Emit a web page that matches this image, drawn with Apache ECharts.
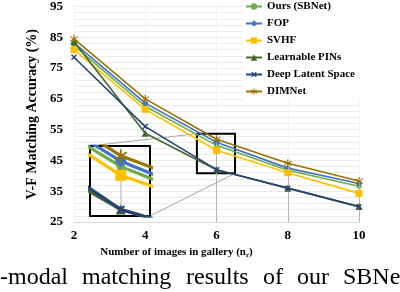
<!DOCTYPE html>
<html>
<head>
<meta charset="utf-8">
<script src="https://cdn.jsdelivr.net/npm/echarts@6/dist/echarts.min.js"></script>
<style>
html,body{margin:0;padding:0;background:#fff;}
#chart{width:400px;height:292px;}
</style>
</head>
<body>
<div id="chart"></div>
<script>
// ---- data ----
var xValues = [2, 4, 6, 8, 10];
var seriesNames = ['Ours (SBNet)', 'FOP', 'SVHF', 'Learnable PINs', 'Deep Latent Space', 'DIMNet'];
var oursData = [82.3, 62.6, 49.9, 41.8, 36.6];
var fopData = [83.2, 63.6, 50.9, 42.5, 37.5];
var svhfData = [81.0, 61.6, 48.3, 41.0, 34.3];
var pinsData = [83.6, 53.8, 42.0, 36.0, 30.0];
var deepData = [78.5, 56.0, 42.0, 36.0, 30.0];
var dimnetData = [84.5, 65.0, 51.9, 44.1, 38.3];
var yTicks = [25, 35, 45, 55, 65, 75, 85, 95];
var xTicks = [2, 4, 6, 8, 10];
var dropLineIdx = [2, 3, 4];
var insetX = [5.45, 6.52];
var insetY = [40.8, 53.7];
var captionWords = ['-modal', 'matching', 'results', 'of', 'our', 'SBNet'];

var FONT = "'Liberation Serif', 'Times New Roman', serif";
var colors = ['#70AD47', '#4472C4', '#FFC000', '#43682B', '#264478', '#997300'];
var allData = [oursData, fopData, svhfData, pinsData, deepData, dimnetData];
var plusPath = 'path://M4,0h2v4h4v2h-4v4h-2v-4h-4v-2h4z';
var starPath = 'path://M4.4,0h1.2v3.6l2.9-2.1l0.7,1l-2.9,2.1l2.9,2.1l-0.7,1l-2.9-2.1v3.6h-1.2v-3.6l-2.9,2.1l-0.7-1l2.9-2.1l-2.9-2.1l0.7-1l2.9,2.1z';
var symbols = ['circle', 'diamond', 'rect', 'triangle', plusPath, starPath];
var symSizeMain = [5, 7, 7, 7, 7, 8];
var symSizeInset = [9, 12, 11, 10, 10, 13];
var symRotate = [0, 0, 0, 0, 45, 0];

function pairs(d) { return xValues.map(function (x, i) { return [x, d[i]]; }); }

var series = [];
seriesNames.forEach(function (name, k) {
  var s = {
    name: name, type: 'line', xAxisIndex: 0, yAxisIndex: 0,
    data: pairs(allData[k]),
    symbol: symbols[k], symbolSize: symSizeMain[k], symbolRotate: symRotate[k],
    showAllSymbol: true,
    lineStyle: { color: colors[k], width: 1.6 },
    itemStyle: { color: colors[k] },
    z: 3 + k, animation: false
  };
  if (k === 5) {
    s.markLine = {
      silent: true, symbol: 'none', animation: false,
      label: { show: false },
      lineStyle: { color: '#B4B4B4', type: 'solid', width: 1 },
      data: dropLineIdx.map(function (i) {
        return [{ coord: [xValues[i], dimnetData[i]] }, { coord: [xValues[i], yTicks[0]] }];
      })
    };
    s.markArea = {
      silent: true, animation: false,
      itemStyle: { color: 'rgba(0,0,0,0)', borderColor: '#000', borderWidth: 2 },
      data: [[{ coord: [insetX[0], insetY[1]] }, { coord: [insetX[1], insetY[0]] }]]
    };
  }
  series.push(s);
});
seriesNames.forEach(function (name, k) {
  var s = {
    name: name, type: 'line', xAxisIndex: 1, yAxisIndex: 1,
    data: pairs(allData[k]),
    symbol: symbols[k], symbolSize: symSizeInset[k], symbolRotate: symRotate[k],
    showAllSymbol: true, clip: true,
    lineStyle: { color: colors[k], width: 3.2 },
    itemStyle: { color: colors[k] },
    z: 20 + k, animation: false
  };
  if (k === 5) {
    s.markLine = {
      silent: true, symbol: 'none', animation: false,
      label: { show: false },
      lineStyle: { color: '#C8C8C8', type: 'solid', width: 1.5 },
      data: [2].map(function (i) {
        return [{ coord: [xValues[i], dimnetData[i]] }, { coord: [xValues[i], insetY[0]] }];
      })
    };
  }
  series.push(s);
});

var chart = echarts.init(document.getElementById('chart'), null, { renderer: 'canvas' });
var option = {
  backgroundColor: '#fff',
  animation: false,
  color: colors,
  textStyle: { fontFamily: FONT },
  legend: {
    data: seriesNames,
    orient: 'vertical', left: 243, top: 0,
    backgroundColor: '#fff',
    padding: [1, 6, 3, 2],
    itemWidth: 16, itemHeight: 8, itemGap: 6,
    textStyle: { fontFamily: FONT, fontWeight: 'bold', fontSize: 11, color: '#000', lineHeight: 11 },
    z: 50
  },
  grid: [
    { left: 74, right: 41, top: 5, bottom: 70, containLabel: false },
    { left: 90, top: 146, width: 60, height: 70, show: true, borderColor: '#000', borderWidth: 2, backgroundColor: 'rgba(0,0,0,0)', z: 15 }
  ],
  xAxis: [
    {
      gridIndex: 0, type: 'value', min: xTicks[0], max: xTicks[xTicks.length - 1], interval: 2,
      axisLine: { show: true, lineStyle: { color: '#D9D9D9', width: 1 } },
      axisTick: { show: false },
      axisLabel: { color: '#000', fontFamily: FONT, fontWeight: 'bold', fontSize: 13, margin: 7 },
      splitLine: { show: true, lineStyle: { color: '#F2F2F2', width: 1 } },
      name: 'Number of images in gallery (n{sub|r})',
      nameLocation: 'middle', nameGap: 22,
      nameTextStyle: {
        color: '#000', fontFamily: FONT, fontWeight: 'bold', fontSize: 11, padding: [0, 80, 0, 0],
        rich: { sub: { fontFamily: FONT, fontWeight: 'bold', fontSize: 7, verticalAlign: 'bottom', padding: [6, 0, 0, 0] } }
      }
    },
    { gridIndex: 1, type: 'value', min: insetX[0], max: insetX[1], show: false }
  ],
  yAxis: [
    {
      gridIndex: 0, type: 'value', min: yTicks[0], max: yTicks[yTicks.length - 1], interval: 10,
      axisLine: { show: false }, axisTick: { show: false },
      axisLabel: { color: '#000', fontFamily: FONT, fontWeight: 'bold', fontSize: 13, margin: 11 },
      splitLine: { show: true, lineStyle: { color: '#EBEBEB', width: 1 } },
      minorTick: { show: false, splitNumber: 5 },
      minorSplitLine: { show: true, lineStyle: { color: '#EBEBEB', width: 1 } },
      name: 'V-F Matching Accuracy (%)',
      nameLocation: 'middle', nameGap: 27, nameRotate: 90,
      nameTextStyle: { color: '#000', fontFamily: FONT, fontWeight: 'bold', fontSize: 14 }
    },
    { gridIndex: 1, type: 'value', min: insetY[0], max: insetY[1], show: false }
  ],
  series: series
};
chart.setOption(option);

// connectors between the zoom rectangle and the inset
var rectTL = chart.convertToPixel({ xAxisIndex: 0, yAxisIndex: 0 }, [insetX[0], insetY[1]]);
var rectBR = chart.convertToPixel({ xAxisIndex: 0, yAxisIndex: 0 }, [insetX[1], insetY[0]]);
var insTL = chart.convertToPixel({ xAxisIndex: 1, yAxisIndex: 1 }, [insetX[0], insetY[1]]);
var insBR = chart.convertToPixel({ xAxisIndex: 1, yAxisIndex: 1 }, [insetX[1], insetY[0]]);

var captionX = [0, 82, 186, 263, 297, 343];
var graphics = [
  { type: 'line', z: 2, silent: true, shape: { x1: insTL[0], y1: insTL[1], x2: rectTL[0], y2: rectTL[1] }, style: { stroke: '#A6A6A6', lineWidth: 1 } },
  { type: 'line', z: 2, silent: true, shape: { x1: insBR[0], y1: insBR[1], x2: rectBR[0], y2: rectBR[1] }, style: { stroke: '#A6A6A6', lineWidth: 1 } }
];
captionWords.forEach(function (w, i) {
  graphics.push({
    type: 'text', left: captionX[i], top: 266, silent: true,
    style: { text: w, fill: '#000', font: "24px 'Liberation Serif', 'Times New Roman', serif" }
  });
});
chart.setOption({ graphic: graphics });
</script>
</body>
</html>
